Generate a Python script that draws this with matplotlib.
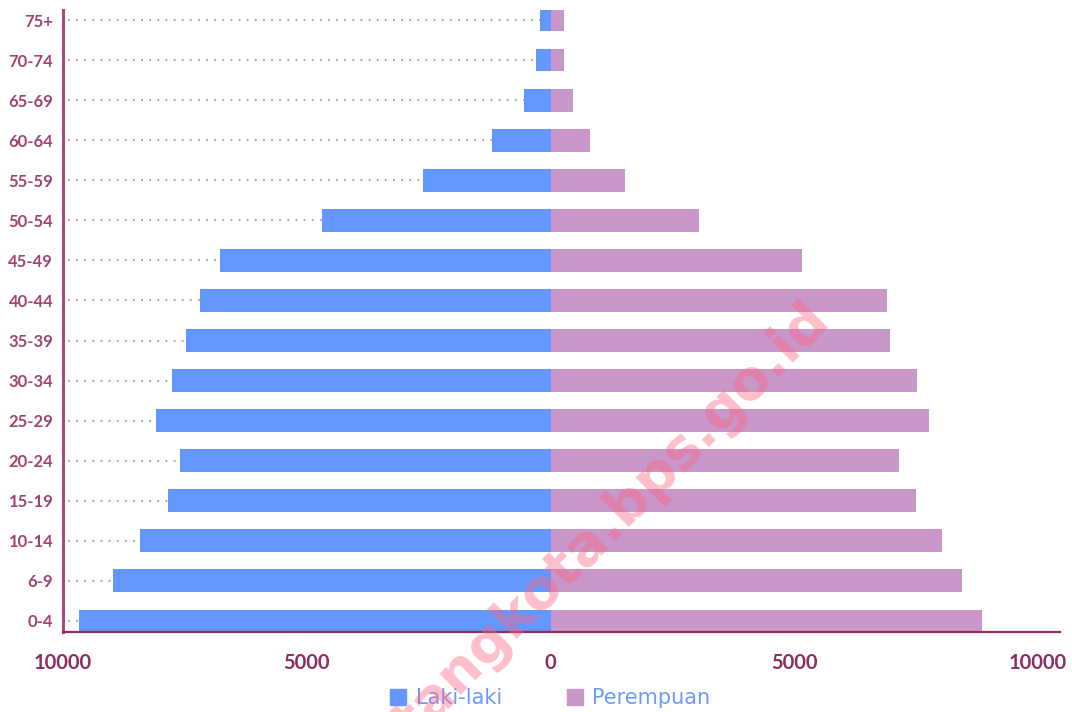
import matplotlib
matplotlib.use("Agg")
import matplotlib.pyplot as plt
from matplotlib.lines import Line2D

age_groups = ["0-4", "6-9", "10-14", "15-19", "20-24", "25-29", "30-34", "35-39",
              "40-44", "45-49", "50-54", "55-59", "60-64", "65-69", "70-74", "75+"]
laki_laki = [9670, 8980, 8430, 7840, 7590, 8100, 7760, 7470,
             7200, 6780, 4690, 2610, 1200, 550, 290, 220]
perempuan = [8860, 8430, 8020, 7490, 7140, 7760, 7510, 6960,
             6900, 5160, 3040, 1530, 800, 470, 270, 270]
x_ticks = [-10000, -5000, 0, 5000, 10000]
x_tick_labels = ["10000", "5000", "0", "5000", "10000"]

BLUE = "#6497fd"
PURPLE = "#c997ca"
AXIS = "#8e2e60"
YLAB = "#a0456f"
DOT = "#c48aa8"
LEG_TXT = "#6c9cf6"

plt.rcParams['font.family'] = ['Lato', 'DejaVu Sans']

fig = plt.figure(figsize=(10.72, 7.12), dpi=100)
ax = fig.add_axes([63/1072, 1 - 632/712, (1060 - 63)/1072, (632 - 10)/712])

y = list(range(len(age_groups)))
xmin, xmax = -9900, 10450

ax.hlines(y, xmin, [-v for v in laki_laki], colors=DOT, linestyles=(0, (1, 3.5)),
          linewidth=1.3, zorder=1)
ax.barh(y, [-v for v in laki_laki], height=0.57, color=BLUE, zorder=2)
ax.barh(y, perempuan, height=0.57, color=PURPLE, zorder=2)

ax.set_xlim(xmin, xmax)
ax.set_ylim(-0.275, 15.25)
ax.set_yticks(y)
ax.set_yticklabels(age_groups, fontsize=12, fontweight='bold', color=YLAB)
ax.set_xticks(x_ticks)
ax.set_xticklabels(x_tick_labels, fontsize=14.5, fontweight='bold', color=AXIS)
ax.tick_params(axis='both', length=0)
ax.tick_params(axis='y', pad=7)
ax.tick_params(axis='x', pad=15)

for s in ['top', 'right']:
    ax.spines[s].set_visible(False)
ax.spines['left'].set_color("#a84a7c")
ax.spines['left'].set_linewidth(2.2)
ax.spines['bottom'].set_color(AXIS)
ax.spines['bottom'].set_linewidth(1.6)

handles = [Line2D([], [], marker='s', linestyle='none', markersize=12,
                  markerfacecolor=BLUE, markeredgecolor=BLUE),
           Line2D([], [], marker='s', linestyle='none', markersize=12,
                  markerfacecolor=PURPLE, markeredgecolor=PURPLE)]
leg = fig.legend(handles, ["Laki-laki", "Perempuan"], loc='center',
                 bbox_to_anchor=(549/1072, 1 - 698/712), ncol=2, frameon=False,
                 fontsize=15, handletextpad=0.35, columnspacing=3.0,
                 handlelength=1.0, prop={'family': 'DejaVu Sans', 'size': 15})
for t in leg.get_texts():
    t.set_color(LEG_TXT)

fig.text(612/1072, 1 - 522/712, "tangkota.bps.go.id", rotation=45,
         rotation_mode='anchor', ha='center', va='center', fontsize=40,
         fontweight='bold', color="#ff6680", alpha=0.42, family='DejaVu Sans',
         zorder=10)

fig.savefig("out.png", dpi=100)
